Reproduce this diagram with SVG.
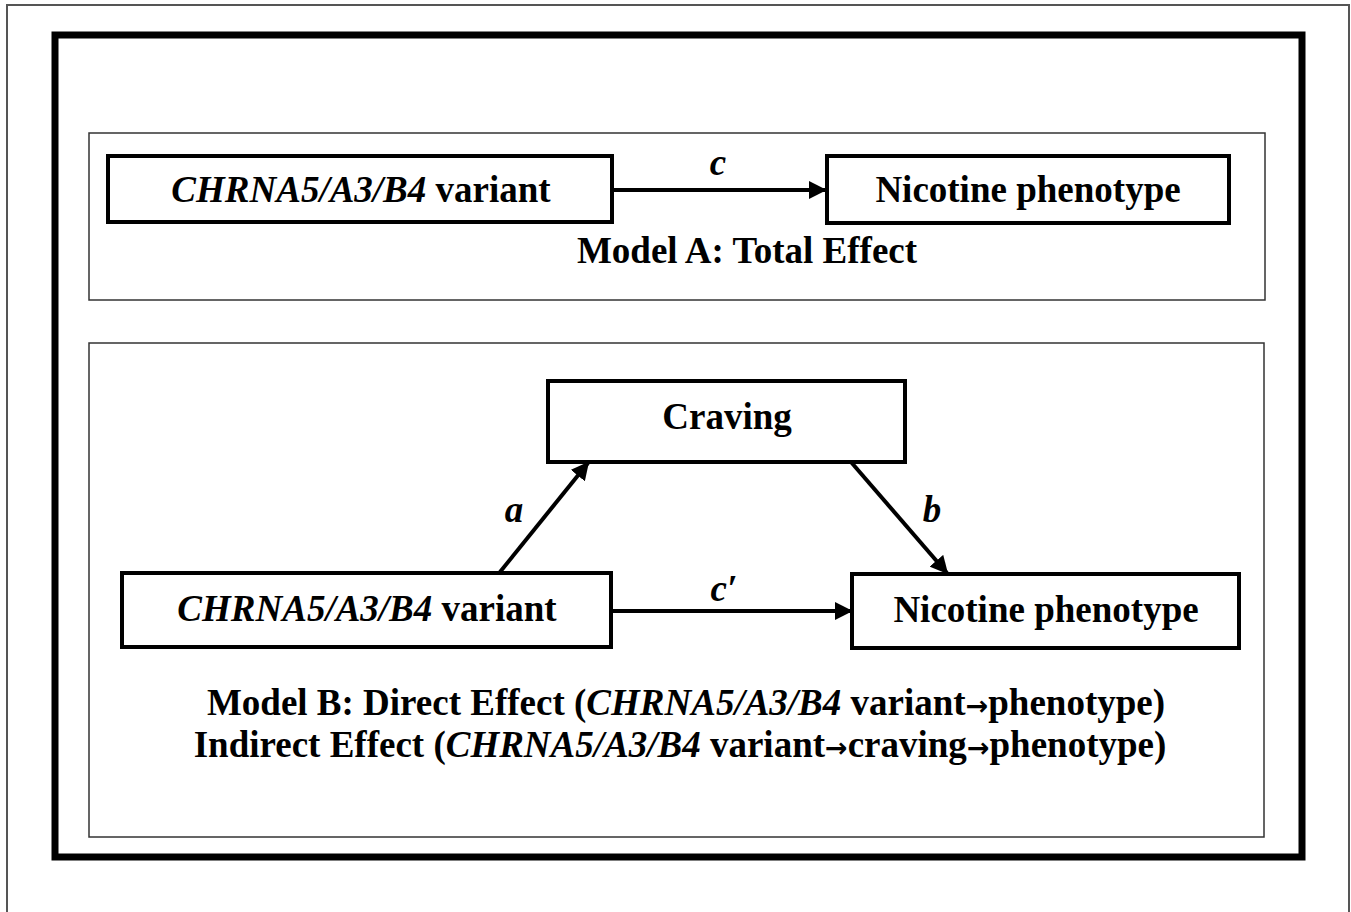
<svg xmlns="http://www.w3.org/2000/svg" width="1351" height="912" viewBox="0 0 1351 912">
<style>
.t{font-family:"Liberation Serif","Times New Roman",serif;font-weight:bold;fill:#000;font-size:37px}
.i{font-style:italic}
.ar{font-family:"DejaVu Sans",sans-serif;font-weight:bold;font-size:27px}
.node{fill:#fff;stroke:#000;stroke-width:4}
.panel{fill:none;stroke:#333;stroke-width:1.5}
.edge{stroke:#000;stroke-width:4;fill:none}
</style>
<defs>
<marker id="ah" viewBox="0 0 10 10" refX="9" refY="5" markerWidth="4.5" markerHeight="4.5" orient="auto" markerUnits="strokeWidth">
<path d="M0,0 L10,5 L0,10 z" fill="#000"/>
</marker>
</defs>
<rect x="0" y="0" width="1351" height="912" fill="#fff"/>
<rect x="7" y="5" width="1342" height="920" fill="none" stroke="#555" stroke-width="2"/>
<rect x="55" y="35" width="1247" height="822" fill="none" stroke="#000" stroke-width="7"/>
<rect class="panel" x="89" y="133" width="1176" height="167"/>
<rect class="panel" x="89" y="343" width="1175" height="494"/>

<g id="connectors">
<line class="edge" x1="612" y1="190" x2="825" y2="190" marker-end="url(#ah)"/>
<line class="edge" x1="500" y1="572" x2="588" y2="463" marker-end="url(#ah)"/>
<line class="edge" x1="851" y1="462" x2="947" y2="573" marker-end="url(#ah)"/>
<line class="edge" x1="611" y1="611" x2="851" y2="611" marker-end="url(#ah)"/>
<text class="t i" x="718" y="175" text-anchor="middle">c</text>
<text class="t i" x="514" y="522" text-anchor="middle">a</text>
<text class="t i" x="932" y="522" text-anchor="middle">b</text>
<text class="t i" x="724" y="601" text-anchor="middle">c′</text>
</g>

<g id="nodeA1">
<rect class="node" x="108" y="156" width="504" height="66"/>
<text class="t" x="361" y="202" text-anchor="middle"><tspan class="i">CHRNA5/A3/B4</tspan> variant</text>
</g>
<g id="nodeA2">
<rect class="node" x="827" y="156" width="402" height="67"/>
<text class="t" x="1028" y="202" text-anchor="middle">Nicotine phenotype</text>
</g>
<g id="labelA">
<text class="t" x="747" y="263" text-anchor="middle">Model A: Total Effect</text>
</g>

<g id="craving">
<rect class="node" x="548" y="381" width="357" height="81"/>
<text class="t" x="727" y="429" text-anchor="middle">Craving</text>
</g>
<g id="nodeB1">
<rect class="node" x="122" y="573" width="489" height="74"/>
<text class="t" x="367" y="621" text-anchor="middle"><tspan class="i">CHRNA5/A3/B4</tspan> variant</text>
</g>
<g id="nodeB2">
<rect class="node" x="852" y="574" width="387" height="74"/>
<text class="t" x="1046" y="622" text-anchor="middle">Nicotine phenotype</text>
</g>
<g id="labelB">
<text class="t" x="686" y="715" text-anchor="middle">Model B: Direct Effect (<tspan class="i">CHRNA5/A3/B4</tspan> variant<tspan class="ar">→</tspan>phenotype)</text>
<text class="t" x="680" y="757" text-anchor="middle">Indirect Effect (<tspan class="i">CHRNA5/A3/B4</tspan> variant<tspan class="ar">→</tspan>craving<tspan class="ar">→</tspan>phenotype)</text>
</g>
</svg>
